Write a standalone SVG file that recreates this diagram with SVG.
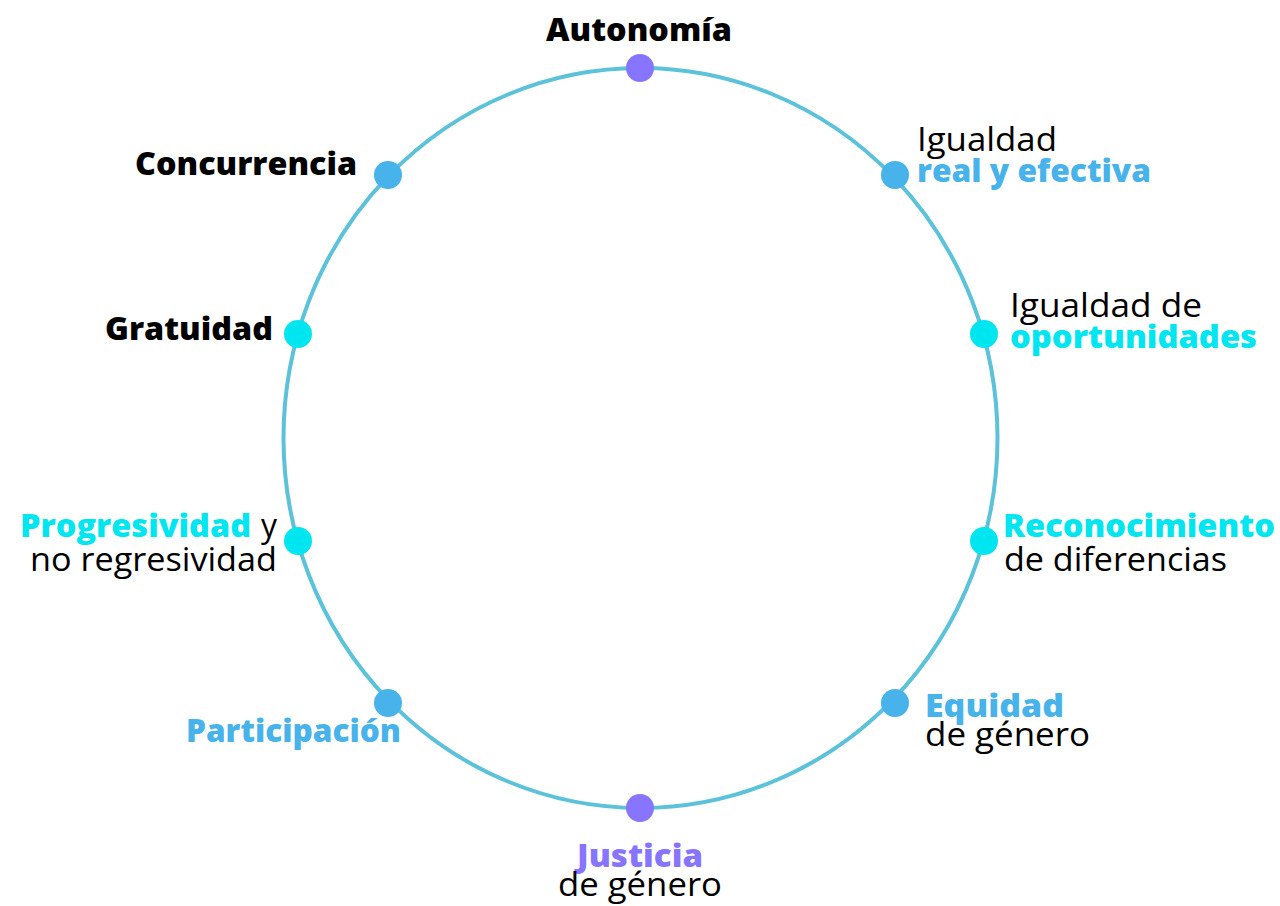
<svg xmlns="http://www.w3.org/2000/svg" width="1280" height="906" viewBox="0 0 1280 906">
<style>
text{font-family:"Open Sans","Noto Sans","Liberation Sans",sans-serif;font-size:32px;fill:#000}
.b{font-weight:800}
.r{font-weight:400}
.purple{fill:#8774FF}
.blue{fill:#48B3EB}
.cyan{fill:#00E6F0}
.dp{fill:#8774FF}
.db{fill:#48B3EB}
.dc{fill:#00E6F0}
</style>
<rect width="1280" height="906" fill="#fff"/>
<g id="connectors">
<ellipse cx="640.5" cy="438" rx="357" ry="370" fill="none" stroke="#5BC2DA" stroke-width="4"/>
</g>
<g id="autonomia"><circle class="dp" cx="640" cy="68" r="14"/><text class="b" x="546" y="41" textLength="186" lengthAdjust="spacingAndGlyphs">Autonomía</text></g>
<g id="concurrencia"><circle class="db" cx="388" cy="175" r="14"/><text class="b" x="135" y="175" textLength="222" lengthAdjust="spacingAndGlyphs">Concurrencia</text></g>
<g id="igualdad-real"><circle class="db" cx="895" cy="175" r="14"/><text class="r" x="917" y="151" textLength="140" lengthAdjust="spacingAndGlyphs">Igualdad</text><text class="b blue" x="917" y="182" textLength="234" lengthAdjust="spacingAndGlyphs">real y efectiva</text></g>
<g id="gratuidad"><circle class="dc" cx="298" cy="334" r="14"/><text class="b" x="105" y="340" textLength="168" lengthAdjust="spacingAndGlyphs">Gratuidad</text></g>
<g id="igualdad-oportunidades"><circle class="dc" cx="984" cy="334" r="14"/><text class="r" x="1010" y="317" textLength="192" lengthAdjust="spacingAndGlyphs">Igualdad de</text><text class="b cyan" x="1010" y="348" textLength="247" lengthAdjust="spacingAndGlyphs">oportunidades</text></g>
<g id="progresividad"><circle class="dc" cx="298" cy="541" r="14"/><text class="b cyan" x="20" y="537" textLength="231" lengthAdjust="spacingAndGlyphs">Progresividad</text><text class="r" x="261" y="537" textLength="16" lengthAdjust="spacingAndGlyphs">y</text><text class="r" x="30" y="571" textLength="247" lengthAdjust="spacingAndGlyphs">no regresividad</text></g>
<g id="reconocimiento"><circle class="dc" cx="984" cy="541" r="14"/><text class="b cyan" x="1003" y="537" textLength="272" lengthAdjust="spacingAndGlyphs">Reconocimiento</text><text class="r" x="1004" y="571" textLength="223" lengthAdjust="spacingAndGlyphs">de diferencias</text></g>
<g id="participacion"><circle class="db" cx="388" cy="703" r="14"/><text class="b blue" x="186" y="742" textLength="215" lengthAdjust="spacingAndGlyphs">Participación</text></g>
<g id="equidad"><circle class="db" cx="895" cy="703" r="14"/><text class="b blue" x="925" y="717" textLength="139" lengthAdjust="spacingAndGlyphs">Equidad</text><text class="r" x="925" y="746" textLength="165" lengthAdjust="spacingAndGlyphs">de género</text></g>
<g id="justicia"><circle class="dp" cx="640" cy="808" r="14"/><text class="b purple" x="577" y="867" textLength="126" lengthAdjust="spacingAndGlyphs">Justicia</text><text class="r" x="558" y="896" textLength="164" lengthAdjust="spacingAndGlyphs">de género</text></g>
</svg>
